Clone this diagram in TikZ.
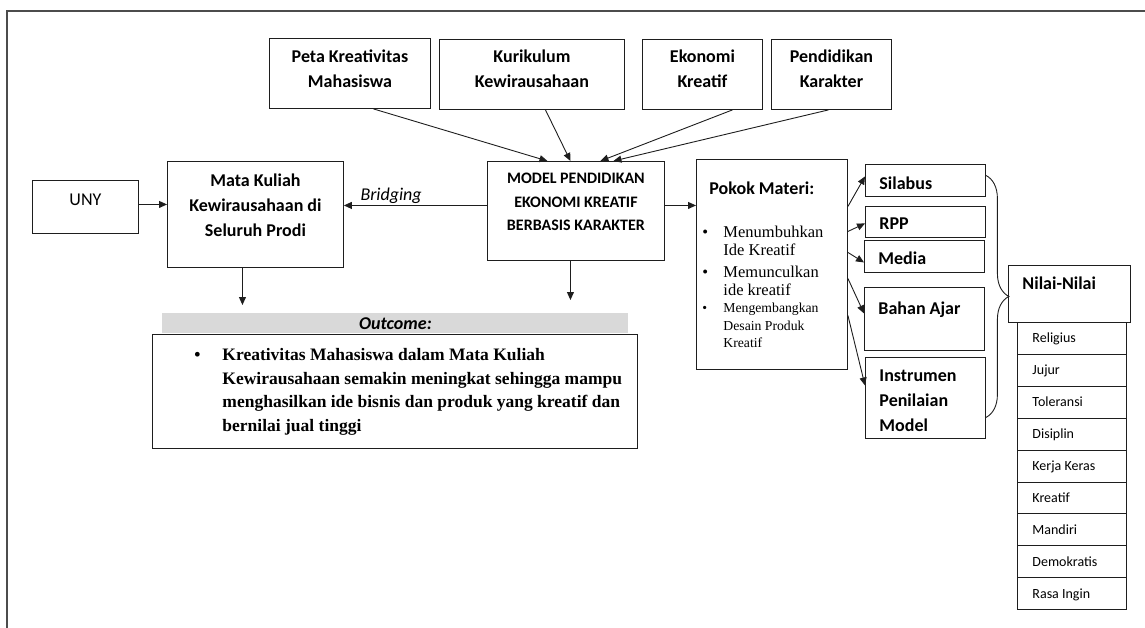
\documentclass[tikz,border=0pt]{standalone}
\usepackage{fontspec}
\setmainfont{Liberation Serif}
\newfontfamily\calibri{Carlito}
\usetikzlibrary{arrows.meta, positioning, decorations.pathreplacing}
\definecolor{barfill}{RGB}{217,217,217}
\definecolor{lineblk}{RGB}{30,30,30}
\newcommand{\ctrtxt}[4]{\parbox[c][#2pt][t]{#1pt}{\centering\rule{0pt}{#3pt}#4}}
\newcommand{\lfttxt}[5]{\parbox[c][#2pt][t]{#1pt}{\raggedright\leftskip=#4pt\rule{0pt}{#3pt}#5}}

\begin{document}
\begin{tikzpicture}[x=1pt, y=-1pt,
    box/.style={draw=lineblk, line width=0.9pt, inner sep=0pt, anchor=north west,
                font=\calibri\bfseries\fontsize{18}{25}\selectfont},
    plainbox/.style={box, font=\calibri\fontsize{18}{25}\selectfont},
    valbox/.style={box, font=\calibri\fontsize{14}{17}\selectfont},
    arr/.style={draw=lineblk, line width=0.9pt, -{Triangle[length=8pt,width=7pt]}}]

    \useasboundingbox (0,0) rectangle (1145,628);

    % ---------------- frame ----------------
    \draw[black!70, line width=1.6pt] (7,628) -- (7,11) -- (1145,11);

    % ---------------- inputs ----------------
    \node[box] (peta) at (269,38) {\ctrtxt{161}{70}{24}{Peta Kreativitas\\Mahasiswa}};
    \node[box] (kurikulum) at (439,39) {\ctrtxt{185}{70}{23}{Kurikulum\\Kewirausahaan}};
    \node[box] (ekonomi) at (642,39) {\ctrtxt{120}{70}{23}{Ekonomi\\Kreatif}};
    \node[box] (karakter) at (771,39) {\ctrtxt{120}{70}{23}{Pendidikan\\Karakter}};

    \node[plainbox] (uny) at (32,180) {\ctrtxt{106}{53}{25.5}{UNY}};
    \node[box] (matkul) at (167,161) {\ctrtxt{176}{106}{25}{Mata Kuliah\\Kewirausahaan di\\Seluruh Prodi}};
    \node[box, font=\calibri\bfseries\fontsize{16}{23.5}\selectfont] (model) at (487,161)
        {\ctrtxt{177}{99}{22.5}{MODEL PENDIDIKAN\\EKONOMI KREATIF\\BERBASIS KARAKTER}};

    % ---------------- pokok materi ----------------
    \node[box] (pokok) at (696,159) {\parbox[c][210pt][t]{151pt}{\raggedright\lineskiplimit=-100pt
        \rule{0pt}{35pt}\hspace*{13pt}Pokok Materi:\par
        \vspace{25pt}
        \rmfamily\mdseries\fontsize{16.5}{18}\selectfont
        \hangindent=27pt\hangafter=1\hspace*{6pt}\makebox[21pt][l]{\textbullet}Menumbuhkan\newline Ide Kreatif\par
        \vspace{4pt}
        \hangindent=27pt\hangafter=1\hspace*{6pt}\makebox[21pt][l]{\textbullet}Memunculkan\newline ide kreatif\par
        \fontsize{13.7}{17.5}\selectfont
        \hangindent=27pt\hangafter=1\hspace*{6pt}\makebox[21pt][l]{\textbullet}Mengembangkan\newline Desain Produk\newline Kreatif\par}};

    \node[box] (silabus) at (865,164) {\lfttxt{120}{32}{25}{14}{Silabus}};
    \node[box] (rpp) at (865,206) {\lfttxt{120}{31}{23.5}{14}{RPP}};
    \node[box] (media) at (864,240) {\lfttxt{120}{32}{24}{14}{Media}};
    \node[box] (bahan) at (864,287) {\lfttxt{120}{63}{27}{14}{Bahan Ajar}};
    \node[box] (instrumen) at (865,357) {\lfttxt{120}{81}{24}{14}{Instrumen\\Penilaian\\Model}};

    % ---------------- nilai-nilai ----------------
    \node[box] (nilai) at (1008,265) {\lfttxt{122}{57}{24}{14}{Nilai-Nilai}};
    \foreach \val [count=\i] in {Religius, Jujur, Toleransi, Disiplin, Kerja Keras, Kreatif, Mandiri, Demokratis, Rasa Ingin}
        \node[valbox] (val\i) at (1017, {322+(\i-1)*31.9}) {\lfttxt{109}{31.9}{20.5}{15}{\val}};

    % ---------------- outcome ----------------
    \node[box, draw=none, fill=barfill, font=\calibri\bfseries\itshape\fontsize{18}{25}\selectfont] (outbar)
        at (162,313) {\ctrtxt{466}{20}{16}{Outcome:}};
    \node[box, font=\rmfamily\bfseries\fontsize{17.5}{23.7}\selectfont] (outcome) at (152,334)
        {\parbox[c][114pt][t]{485pt}{\raggedright\lineskiplimit=-100pt\hangindent=70pt\hangafter=1
        \rule{0pt}{26pt}\hspace*{42pt}\makebox[28pt][l]{\textbullet}Kreativitas Mahasiswa dalam Mata Kuliah\newline
        Kewirausahaan semakin meningkat sehingga mampu\newline
        menghasilkan ide bisnis dan produk yang kreatif dan\newline
        bernilai jual tinggi}};

    % ---------------- connectors ----------------
    \draw[arr] ([xshift=23.5pt]peta.south) -- ([xshift=-28.5pt]model.north);
    \draw[arr] ([xshift=13.5pt]kurikulum.south) -- ([xshift=-5.5pt]model.north);
    \draw[arr] ([xshift=30pt]ekonomi.south) -- ([xshift=24.5pt]model.north);
    \draw[arr] ([xshift=-3pt]karakter.south) -- ([xshift=37.5pt]model.north);

    \draw[arr] ([yshift=2.5pt]uny.east) -- ([yshift=2.5pt]uny.east -| matkul.west);
    \draw[arr] ([yshift=5.5pt]model.west) -- ([yshift=5.5pt]model.west -| matkul.east)
        node[pos=0.67, above=1pt, inner sep=0pt, font=\calibri\itshape\fontsize{18}{25}\selectfont] (bridge) {Bridging};
    \draw[arr] ([yshift=5.5pt]model.east) -- ([yshift=5.5pt]model.east -| pokok.west);

    \draw[arr, shorten >=8pt] ([xshift=-13pt]matkul.south) -- ([xshift=-13pt]matkul.south |- outbar.north);
    \draw[arr, shorten >=13pt] ([xshift=-5.5pt]model.south) -- ([xshift=-5.5pt]model.south |- outbar.north);

    \draw[arr] ([yshift=58pt]pokok.east) -- ([yshift=4pt]silabus.west);
    \draw[arr] ([yshift=33pt]pokok.east) -- ([yshift=-1.5pt]rpp.west);
    \draw[arr] ([yshift=12pt]pokok.east) -- ([yshift=-6pt]media.west);
    \draw[arr] ([yshift=-14pt]pokok.east) -- ([yshift=5.5pt]bahan.west);
    \draw[arr] ([yshift=-51pt]pokok.east) -- ([yshift=12.5pt]instrumen.west);

    % brace towards the values
    \draw[lineblk, line width=0.9pt, decorate, decoration={brace, amplitude=23pt}]
        ([yshift=5pt]silabus.east) -- ([yshift=-19.5pt]instrumen.east);

\end{tikzpicture}
\end{document}
